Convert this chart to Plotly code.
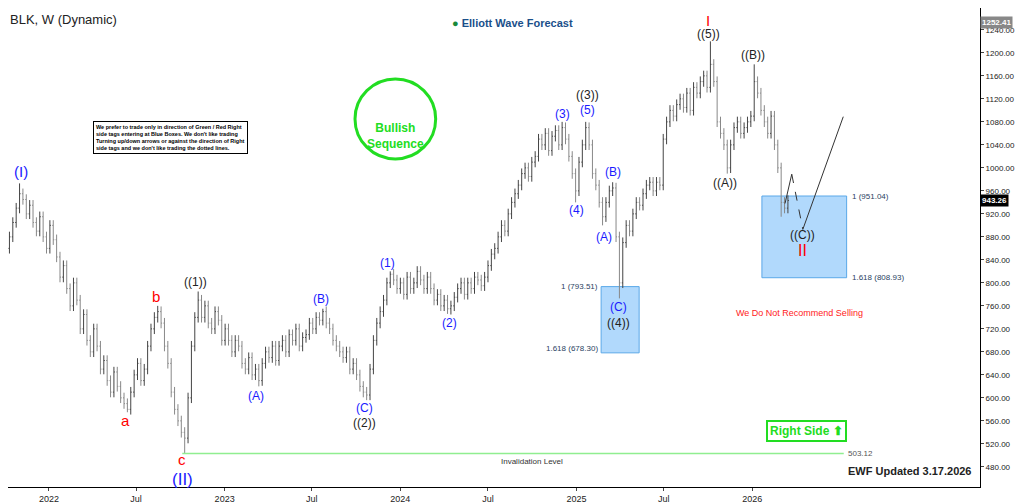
import plotly.graph_objects as go
import pandas as pd

# weekly closes, BLK
closes = [860, 880, 905, 930, 955, 945,
          920, 935, 905, 890, 915, 880, 860, 900, 875, 845,
          810, 830, 790, 760, 800, 770, 720, 745, 700, 680,
          720, 690, 650, 665, 630, 610, 645, 620, 600, 590,
          580, 610, 640, 660, 630, 650, 690, 720, 740, 750,
          730, 690, 660, 610, 580, 560, 540, 530,
          600, 690, 740, 770,
          740, 760, 730, 720, 750, 735, 700, 720, 700, 680,
          700, 690, 660, 650, 670, 640, 650, 630,
          660, 680, 670, 690, 665, 690, 700, 680, 710, 700,
          720, 690, 705, 710, 730, 720, 740, 735, 750,
          730, 720, 700, 690, 680, 670, 680, 650, 660, 640, 620, 610, 605,
          650, 700, 730, 750, 770, 800, 815,
          805, 790, 800, 780, 810, 790, 800, 820, 805, 790, 810,
          790, 770, 780, 760, 770, 755, 760,
          775, 790, 800, 780, 800, 790, 810, 805, 795, 810, 830, 850, 860,
          880, 900, 890, 920, 940, 955, 970, 990, 1000, 985,
          1010, 1020, 1050, 1040, 1060, 1030, 1055, 1065, 1040, 1070,
          1050, 1020, 990, 960,
          1010, 1040, 1070,
          1040, 990, 970, 940, 915,
          940, 960, 965,
          880, 800,
          870, 900, 890, 920, 940, 935, 955, 970, 975, 960,
          975, 970, 1050, 1080, 1100, 1090, 1110, 1120, 1105, 1130,
          1100, 1140, 1130, 1150, 1160, 1140, 1180,
          1150, 1080, 1060, 1040, 1000,
          1040, 1070, 1080, 1060, 1070, 1080, 1090, 1150,
          1130, 1100, 1080, 1060, 1090, 1040, 1000, 940, 930, 943.26]

# extreme highs / lows at wave pivots (bar index -> price)
pivot_highs = {4: 973, 45: 760, 57: 785, 94: 755, 114: 820, 165: 1080, 172: 1080,
               180: 975, 209: 1220, 222: 1180}
pivot_lows = {36: 575, 53: 503, 75: 620, 107: 596, 132: 745, 169: 940, 177: 900,
              182: 773, 214: 990, 230: 915}

dates = pd.date_range(end="2026-03-16", periods=len(closes), freq="W-MON")
opens = [closes[0] - 10] + closes[:-1]
highs = [max(o, c) + 9 for o, c in zip(opens, closes)]
lows = [min(o, c) - 9 for o, c in zip(opens, closes)]
for k, v in pivot_highs.items():
    highs[k] = v
for k, v in pivot_lows.items():
    lows[k] = v

# wave labels: (text, date, price, colour, size)
blue, red, black = "#1a1aff", "#ff0000", "#222222"
labels = [
    ("(I)", "2021-11-04", 994, blue, 15), ("a", "2022-06-10", 561, red, 15),
    ("b", "2022-08-12", 777, red, 15), ("c", "2022-10-05", 492, red, 15),
    ("(II)", "2022-10-05", 458, blue, 17), ("((1))", "2022-11-01", 802, black, 12),
    ("(A)", "2023-03-08", 604, blue, 12), ("(B)", "2023-07-20", 772, blue, 12),
    ("(C)", "2023-10-19", 582, blue, 12), ("((2))", "2023-10-19", 556, black, 12),
    ("(1)", "2023-12-05", 835, blue, 12), ("(2)", "2024-04-12", 731, blue, 12),
    ("(3)", "2024-12-02", 1094, blue, 12), ("((3))", "2025-01-23", 1126, black, 12),
    ("(5)", "2025-01-23", 1101, blue, 12), ("(4)", "2025-01-01", 926, blue, 12),
    ("(B)", "2025-03-17", 992, blue, 12), ("(A)", "2025-02-27", 880, blue, 12),
    ("(C)", "2025-03-29", 758, blue, 12), ("((4))", "2025-03-29", 731, black, 12),
    ("I", "2025-10-02", 1257, red, 15), ("((5))", "2025-10-02", 1233, black, 12),
    ("((B))", "2026-01-02", 1196, black, 12), ("((A))", "2025-11-06", 973, black, 12),
    ("((C))", "2026-04-16", 883, black, 12), ("II", "2026-04-16", 856, red, 16),
]

path_dates = ["2026-03-10", "2026-03-24", "2026-04-16", "2026-07-09"]
path_prices = [938, 989, 893, 1089]

xtick_vals = ["2022-01-01", "2022-07-01", "2023-01-01", "2023-07-01", "2024-01-01",
              "2024-07-01", "2025-01-01", "2025-07-01", "2026-01-01"]
xtick_text = ["2022", "Jul", "2023", "Jul", "2024", "Jul", "2025", "Jul", "2026"]

fig = go.Figure()
fig.add_trace(go.Ohlc(x=dates, open=opens, high=highs, low=lows, close=closes,
                      increasing_line_color="#444444", decreasing_line_color="#888888",
                      line_width=1, tickwidth=0.3))

# blue boxes
fig.add_shape(type="rect", x0="2025-02-21", x1="2025-05-11", y0=678.30, y1=793.51,
              fillcolor="rgba(100,180,250,0.5)", line=dict(color="#5aa8e8", width=1), layer="below")
fig.add_shape(type="rect", x0="2026-01-21", x1="2026-07-16", y0=808.93, y1=951.04,
              fillcolor="rgba(100,180,250,0.5)", line=dict(color="#5aa8e8", width=1), layer="below")
fig.add_annotation(x="2025-02-19", y=793.51, text="1 (793.51)", xanchor="right", showarrow=False, font=dict(size=8))
fig.add_annotation(x="2025-02-19", y=678.30 + 8, text="1.618 (678.30)", xanchor="right", showarrow=False, font=dict(size=8))
fig.add_annotation(x="2026-07-22", y=951.04, text="1 (951.04)", xanchor="left", showarrow=False, font=dict(size=8))
fig.add_annotation(x="2026-07-22", y=808.93, text="1.618 (808.93)", xanchor="left", showarrow=False, font=dict(size=8))

# invalidation line
fig.add_shape(type="line", x0="2022-10-05", x1="2026-07-10", y0=503.12, y1=503.12,
              line=dict(color="#90ee90", width=1.5))
fig.add_annotation(x="2026-07-14", y=503.12, text="503.12", xanchor="left", showarrow=False, font=dict(size=8, color="#555"))
fig.add_annotation(x="2024-10-01", y=490, text="Invalidation Level", showarrow=False, font=dict(size=8, color="#333"))

# projected path
fig.add_trace(go.Scatter(x=path_dates[:2], y=path_prices[:2], mode="lines", line=dict(color="#333", width=1)))
fig.add_trace(go.Scatter(x=path_dates[1:3], y=path_prices[1:3], mode="lines", line=dict(color="#333", width=1, dash="dash")))
fig.add_trace(go.Scatter(x=path_dates[2:], y=path_prices[2:], mode="lines", line=dict(color="#333", width=1)))

for t, d, p, c, s in labels:
    fig.add_annotation(x=d, y=p, text=t, showarrow=False, font=dict(size=s, color=c, family="Arial"))

# paper-level decorations
fig.add_shape(type="circle", xref="paper", yref="paper", x0=0.357, x1=0.440, y0=0.685, y1=0.852,
              line=dict(color="#22dd22", width=3))
fig.add_annotation(xref="paper", yref="paper", x=0.399, y=0.768, xanchor="center", text="<b>Bullish<br>Sequence</b>",
                   showarrow=False, font=dict(size=12, color="#22dd22"))
fig.add_annotation(xref="paper", yref="paper", x=0.167, y=0.764, xanchor="center",
                   text="<b>We prefer to trade only in direction of Green / Red Right<br>side tags entering at Blue Boxes. We don't like trading<br>Turning up/down arrows or against the direction of Right<br>side tags and we don't like trading the dotted lines.</b>",
                   showarrow=False, align="left", font=dict(size=5.5, color="black"),
                   bordercolor="black", borderwidth=1, bgcolor="white", borderpad=2)
fig.add_annotation(xref="paper", yref="paper", x=0.0, y=0.995, xanchor="left", text="BLK, W (Dynamic)",
                   showarrow=False, font=dict(size=13, color="#222"))
fig.add_annotation(xref="paper", yref="paper", x=0.519, y=0.985, xanchor="center",
                   text="<b><span style='color:#1a8a3a'>●</span> Elliott Wave Forecast</b>",
                   showarrow=False, font=dict(size=11, color="#1a4f8a"))
fig.add_annotation(xref="paper", yref="paper", x=0.814, y=0.363, xanchor="center", text="We Do Not Recommend Selling",
                   showarrow=False, font=dict(size=9, color="#ff2222"))
fig.add_annotation(xref="paper", yref="paper", x=0.821, y=0.094, xanchor="center", text="<b>Right Side \u2b06</b>",
                   showarrow=False, font=dict(size=12, color="#22dd22"),
                   bordercolor="#22dd22", borderwidth=2, bgcolor="white", borderpad=2)
fig.add_annotation(xref="paper", yref="paper", x=0.994, y=0.017, xanchor="right", text="<b>EWF Updated 3.17.2026</b>",
                   showarrow=False, font=dict(size=11, color="#222"))
fig.add_annotation(xref="paper", x=1.0, y=943.26, xanchor="left", text="<b>943.26</b>", showarrow=False,
                   font=dict(size=8, color="white"), bgcolor="black")
fig.add_annotation(xref="paper", x=1.0, y=1252.41, xanchor="left", text="<b>1252.41</b>", showarrow=False,
                   font=dict(size=8, color="white"), bgcolor="#888")

fig.update_xaxes(range=["2021-10-08", "2027-04-19"], tickvals=xtick_vals, ticktext=xtick_text,
                 rangeslider_visible=False, showgrid=False, ticks="outside", ticklen=3,
                 tickfont=dict(size=9, color="#222"), showline=True, linecolor="black", mirror=True)
fig.update_yaxes(range=[445, 1278], side="right", dtick=40, tick0=480, tickformat=".2f", showgrid=False,
                 ticks="outside", ticklen=3, tickfont=dict(size=8, color="#222"),
                 showline=True, linecolor="black", mirror=True)
fig.update_layout(width=1016, height=496, margin=dict(l=0, r=44, t=0, b=17),
                  paper_bgcolor="white", plot_bgcolor="white", showlegend=False,
                  font=dict(family="Arial"))

fig.write_html("out.html")
